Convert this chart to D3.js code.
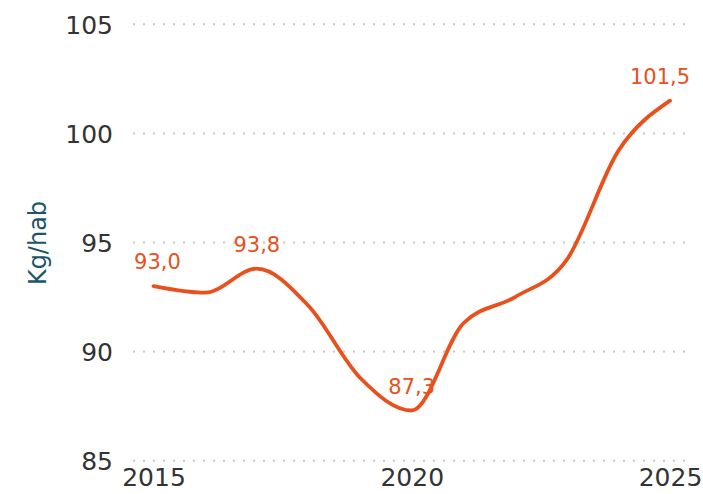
<!DOCTYPE html>
<html><head><meta charset="utf-8">
<script src="https://cdn.jsdelivr.net/npm/d3@7"></script>
<style>
body{margin:0;background:#fff;}
svg{display:block;font-family:"DejaVu Sans",Verdana,sans-serif;}
</style></head><body>
<svg id="chart" width="703" height="494"></svg>
<script>
const years = [2015,2016,2017,2018,2019,2020,2021,2022,2023,2024,2025];
const values = [93.0,92.7,93.8,92.1,88.8,87.3,91.3,92.5,94.2,99.2,101.5];
const labelYears = [2015,2017,2020,2025];
const yTicks = [85,90,95,100,105];
const xTicks = [2015,2020,2025];
const yTitle = "Kg/hab";

const svg = d3.select("#chart");
const x = d3.scaleLinear().domain([2015,2025]).range([153.5,670]);
const y = d3.scaleLinear().domain([85,105]).range([460.7,24.3]);
const orange = "#E8501C";

// gridlines
svg.append("g").selectAll("line").data(yTicks).join("line")
  .attr("x1",133).attr("x2",687)
  .attr("y1",d=>y(d)).attr("y2",d=>y(d))
  .attr("stroke","#c8c8c8").attr("stroke-width",2)
  .attr("stroke-dasharray","2,8").attr("stroke-linecap","butt");

// y axis
const yAxis = svg.append("g").attr("transform","translate(113,0)")
  .call(d3.axisLeft(y).tickValues(yTicks).tickSize(0).tickPadding(0).tickFormat(d3.format("d")));
yAxis.select(".domain").remove();
yAxis.selectAll("text").attr("font-size",25).attr("fill","#333").attr("font-family","DejaVu Sans, sans-serif").attr("dy","0.35em");

// x axis
const xAxis = svg.append("g").attr("transform","translate(0,465)")
  .call(d3.axisBottom(x).tickValues(xTicks).tickSize(0).tickPadding(0).tickFormat(d3.format("d")));
xAxis.select(".domain").remove();
xAxis.selectAll("text").attr("font-size",25).attr("fill","#333").attr("font-family","DejaVu Sans, sans-serif").attr("dy","0.85em");

// y title
svg.append("text").attr("transform","translate(46,243) rotate(-90)")
  .attr("text-anchor","middle").attr("font-size",24).attr("fill","#1b5566")
  .text(yTitle);

// line
const data = years.map((yr,i)=>({year:yr,value:values[i]}));
const line = d3.line().x(d=>x(d.year)).y(d=>y(d.value)).curve(d3.curveMonotoneX);
svg.append("path").datum(data).attr("d",line)
  .attr("fill","none").attr("stroke",orange).attr("stroke-width",3.8)
  .attr("stroke-linecap","round").attr("stroke-linejoin","round");

// labels
const fmt = v => v.toFixed(1).replace(".",",");
svg.append("g").selectAll("text").data(data.filter(d=>labelYears.includes(d.year))).join("text")
  .attr("x",d=>x(d.year)+(d.year===2025?-10:(d.year===2015?4:0)))
  .attr("y",d=>y(d.value)-17)
  .attr("text-anchor","middle").attr("font-size",21).attr("fill",orange)
  .text(d=>fmt(d.value));
</script>
</body></html>
